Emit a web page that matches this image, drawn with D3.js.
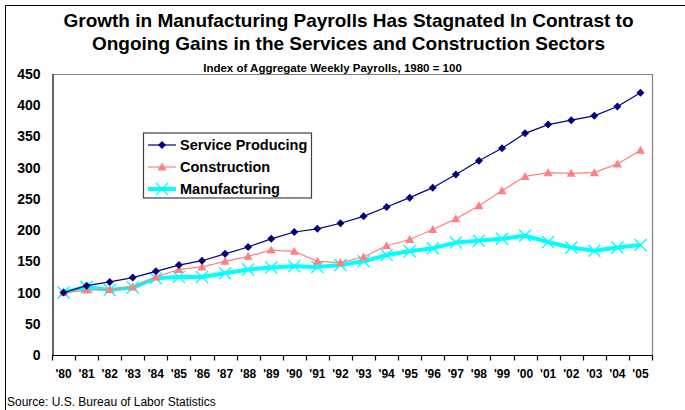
<!DOCTYPE html>
<html>
<head>
<meta charset="utf-8">
<script src="https://cdn.jsdelivr.net/npm/d3@7/dist/d3.min.js"></script>
<style>
  html, body { margin: 0; padding: 0; background: #fff; }
  svg { display: block; font-family: Arial, "Liberation Sans", Helvetica, sans-serif; }
</style>
</head>
<body>
<svg id="chart" width="685" height="410"></svg>
<script>
// Index of aggregate weekly payrolls, 1980 = 100
const years = ["'80","'81","'82","'83","'84","'85","'86","'87","'88","'89","'90","'91","'92",
               "'93","'94","'95","'96","'97","'98","'99","'00","'01","'02","'03","'04","'05"];
const serviceProducing = [100,111,117,124,134,144,151,162,173,186,197,202,211,222,237,252,268,289,311,331,355,369,376,383,398,420];
const construction     = [100,104,105,109,125,137,141,150,158,168,166,150,148,157,175,185,201,218,239,263,286,292,291,292,306,328];
const manufacturing    = [100,109,104,108,123,125,125,131,137,140,142,141,144,150,160,166,171,180,183,186,191,181,172,167,172,176];
const yTicks = [0,50,100,150,200,250,300,350,400,450];

const titleLines = ["Growth in Manufacturing Payrolls Has Stagnated In Contrast to",
                    "Ongoing Gains in the Services and Construction Sectors"];
const subtitle = "Index of Aggregate Weekly Payrolls, 1980 = 100";
const source = "Source: U.S. Bureau of Labor Statistics";

const series = [
  { name: "Service Producing", values: serviceProducing, color: "#000080", width: 1.2, marker: "diamond" },
  { name: "Construction",      values: construction,     color: "#FF8080", width: 1.2, marker: "triangle" },
  { name: "Manufacturing",     values: manufacturing,    color: "#00FFFF", width: 4,   marker: "cross" }
];

const svg = d3.select("#chart");
const m = { left: 52, right: 652, top: 74, bottom: 355 };

const x = d3.scaleBand().domain(years).range([m.left, m.right]);
const y = d3.scaleLinear().domain([0, 450]).range([m.bottom, m.top]);

// outer frame (top and left edges)
svg.append("line").attr("x1", 5.5).attr("x2", 685).attr("y1", 5.5).attr("y2", 5.5)
  .attr("stroke", "#000").attr("stroke-width", 1);
svg.append("line").attr("x1", 5.5).attr("x2", 5.5).attr("y1", 5.5).attr("y2", 410)
  .attr("stroke", "#000").attr("stroke-width", 1);

// titles
svg.selectAll("text.title").data(titleLines).join("text")
  .attr("class", "title")
  .attr("x", 348.5).attr("y", (d, i) => 27 + i * 23)
  .attr("text-anchor", "middle")
  .attr("font-size", 19).attr("font-weight", "bold")
  .text(d => d);
svg.append("text").attr("x", 332.5).attr("y", 71.5).attr("text-anchor", "middle")
  .attr("font-size", 11.5).attr("font-weight", "bold").text(subtitle);

// plot frame: grey top and right edges
svg.append("path")
  .attr("d", `M${m.left},${m.top + 0.5}H${m.right + 0.5}V${m.bottom}`)
  .attr("fill", "none").attr("stroke", "#808080").attr("stroke-width", 1.2);

// y axis
const yAxis = svg.append("g").attr("transform", `translate(${m.left + 0.5},0)`)
  .call(d3.axisLeft(y).tickValues(yTicks).tickSize(0).tickPadding(12));
yAxis.select(".domain").attr("stroke", "#000").attr("stroke-width", 1.2);
yAxis.selectAll("text").attr("font-size", 14).attr("font-weight", "bold")
  .attr("font-family", "Arial, 'Liberation Sans', sans-serif").attr("fill", "#000");

// x axis: ticks at band boundaries, labels centred in bands
const xAxis = svg.append("g").attr("transform", `translate(0,${m.bottom + 0.5})`)
  .call(d3.axisBottom(x).tickSize(0).tickPadding(14));
xAxis.select(".domain").attr("d", `M${m.left},0H${m.right + 0.5}`).attr("stroke", "#000").attr("stroke-width", 1.2);
xAxis.selectAll("text").attr("font-size", 12).attr("font-weight", "bold")
  .attr("font-family", "Arial, 'Liberation Sans', sans-serif").attr("fill", "#000");
const bounds = years.map(d => x(d)).concat([m.right]);
xAxis.selectAll("line.bound").data(bounds).join("line")
  .attr("class", "bound")
  .attr("x1", d => Math.round(d) + 0.5).attr("x2", d => Math.round(d) + 0.5)
  .attr("y1", 0).attr("y2", 5).attr("stroke", "#000").attr("stroke-width", 1.2);

// markers
function drawMarker(g, type, color) {
  if (type === "diamond") {
    g.append("path").attr("d", "M0,-4L4,0L0,4L-4,0Z").attr("fill", color);
  } else if (type === "triangle") {
    g.append("path").attr("d", "M0,-4.5L4.5,3.5L-4.5,3.5Z").attr("fill", color);
  } else {
    g.append("path").attr("d", "M-6,-6L6,6M-6,6L6,-6").attr("stroke", color)
      .attr("stroke-width", 1.4).attr("fill", "none");
  }
}

const cx = (d, i) => x(years[i]) + x.bandwidth() / 2;
const line = d3.line().x(cx).y(d => y(d));

// draw back to front so services sit on top
[...series].reverse().forEach(s => {
  const g = svg.append("g");
  g.append("path").datum(s.values).attr("d", line)
    .attr("fill", "none").attr("stroke", s.color).attr("stroke-width", s.width)
    .attr("stroke-linejoin", "round");
  s.values.forEach((v, i) => {
    const mg = g.append("g").attr("transform", `translate(${cx(v, i)},${y(v)})`);
    drawMarker(mg, s.marker, s.color);
  });
});

// legend
const lg = svg.append("g");
lg.append("rect").attr("x", 143.5).attr("y", 133).attr("width", 168).attr("height", 65)
  .attr("fill", "#fff").attr("stroke", "#404040").attr("stroke-width", 1.2);
series.forEach((s, i) => {
  const yy = 145 + i * 22;
  lg.append("line").attr("x1", 148).attr("x2", 176).attr("y1", yy).attr("y2", yy)
    .attr("stroke", s.color).attr("stroke-width", s.width);
  drawMarker(lg.append("g").attr("transform", `translate(162,${yy})`), s.marker, s.color);
  lg.append("text").attr("x", 180).attr("y", yy + 5.2).attr("font-size", 14.5)
    .attr("font-weight", "bold").text(s.name);
});

// source note
svg.append("text").attr("x", 7).attr("y", 406).attr("font-size", 12).text(source);
</script>
</body>
</html>
